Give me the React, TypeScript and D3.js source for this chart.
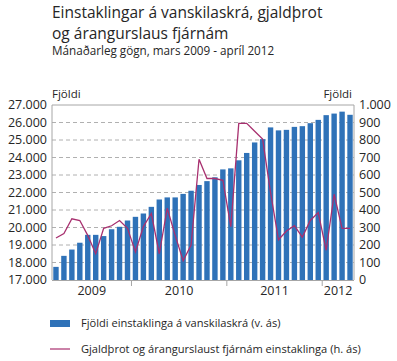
import React from "react";
import * as d3 from "d3";

const months: string[] = [
  "2009-03","2009-04","2009-05","2009-06","2009-07","2009-08","2009-09","2009-10","2009-11","2009-12",
  "2010-01","2010-02","2010-03","2010-04","2010-05","2010-06","2010-07","2010-08","2010-09","2010-10","2010-11","2010-12",
  "2011-01","2011-02","2011-03","2011-04","2011-05","2011-06","2011-07","2011-08","2011-09","2011-10","2011-11","2011-12",
  "2012-01","2012-02","2012-03","2012-04",
];

// Fjöldi einstaklinga á vanskilaskrá (left axis)
const registry: number[] = [
  17750, 18380, 18740, 19130, 19580, 19580, 19510, 19900, 20040, 20400,
  20610, 20800, 21180, 21600, 21720, 21720, 21920, 22100, 22430, 22650, 22870, 23320,
  23380, 23840, 24260, 24860, 25050, 25720, 25550, 25580, 25750, 25790, 25960, 26150,
  26420, 26510, 26620, 26440,
];

// Gjaldþrot og árangurslaust fjárnám einstaklinga (right axis)
const bankrupt: number[] = [
  240, 265, 350, 340, 255, 150, 295, 310, 340, 295,
  160, 305, 380, 150, 410, 255, 110, 200, 690, 580, 580, 570,
  305, 895, 895, 850, 805, 500, 230, 280, 310, 245, 340, 385,
  170, 490, 295, 295,
];

const years: string[] = ["2009", "2010", "2011", "2012"];
const leftTicks: number[] = [17000, 18000, 19000, 20000, 21000, 22000, 23000, 24000, 25000, 26000, 27000];
const rightTicks: number[] = [0, 100, 200, 300, 400, 500, 600, 700, 800, 900, 1000];

const FONT = "'Open Sans', sans-serif";
const BAR = "#2f72b8";
const LINE = "#a8306f";
const AXIS = "#a6a6a6";
const TXT = "#262626";

const W = 397;
const H = 361;
const L = 52;
const R = 354;
const T = 105;
const B = 280;

const fmt = (v: number) => d3.format(",")(v).replace(/,/g, ".");

export default function App() {
  const x = d3.scaleBand<string>().domain(months).range([L, R]).paddingInner(0.32).paddingOuter(0.16);
  const yL = d3.scaleLinear().domain([17000, 27000]).range([B, T]);
  const yR = d3.scaleLinear().domain([0, 1000]).range([B, T]);
  const step = x.step();
  const gapHalf = (step - x.bandwidth()) / 2;

  const line = d3
    .line<number>()
    .x((_, i) => (x(months[i]) as number) + x.bandwidth() / 2)
    .y((d) => yR(d));

  const yearStarts = years.map((y) => months.findIndex((m) => m.startsWith(y)));
  const boundary = (i: number) => (x(months[i]) as number) - gapHalf;

  return (
    <svg width={W} height={H} style={{ display: "block", position: "absolute", left: 0, top: 0 }} fontFamily={FONT}>
      <rect x={0} y={0} width={W} height={H} fill="#fff" />
      <text x={52} y={18} fontSize={15.5} fill={TXT}>Einstaklingar á vanskilaskrá, gjaldþrot</text>
      <text x={52} y={39} fontSize={15.5} fill={TXT}>og árangurslaus fjárnám</text>
      <text x={52} y={55} fontSize={11.7} fill={TXT}>Mánaðarleg gögn, mars 2009 - apríl 2012</text>

      <text x={L} y={98} fontSize={11.5} fill={TXT}>Fjöldi</text>
      <text x={R - 2} y={98} fontSize={11.5} fill={TXT} textAnchor="end">Fjöldi</text>

      {leftTicks.slice(1, -1).map((t) => (
        <line key={"g" + t} x1={L} x2={R} y1={yL(t)} y2={yL(t)} stroke="#b0b0b0" strokeWidth={1} strokeDasharray="4,3" />
      ))}

      {registry.map((v, i) => (
        <rect key={"b" + i} x={x(months[i])} y={yL(v)} width={x.bandwidth()} height={B - yL(v)} fill={BAR} />
      ))}

      <path d={line(bankrupt) || ""} fill="none" stroke={LINE} strokeWidth={1.3} strokeLinejoin="miter" />

      <line x1={L} x2={R} y1={T} y2={T} stroke={AXIS} strokeWidth={1} />
      <line x1={L} x2={L} y1={T} y2={B} stroke={AXIS} strokeWidth={1} />
      <line x1={R} x2={R} y1={T} y2={B} stroke={AXIS} strokeWidth={1} />
      <line x1={L} x2={R} y1={B + 0.5} y2={B + 0.5} stroke={AXIS} strokeWidth={1} />

      {yearStarts.slice(1).map((s) => (
        <line key={"t" + s} x1={boundary(s)} x2={boundary(s)} y1={B} y2={B + 6} stroke={AXIS} strokeWidth={1} />
      ))}

      {years.map((yr, k) => {
        const x0 = k === 0 ? L : boundary(yearStarts[k]);
        const x1 = k === years.length - 1 ? R : boundary(yearStarts[k + 1]);
        return (
          <text key={yr} x={(x0 + x1) / 2} y={295} fontSize={12.5} textAnchor="middle" fill={TXT}>
            {yr}
          </text>
        );
      })}

      {leftTicks.map((t) => (
        <text key={"l" + t} x={47} y={yL(t)} dy="0.35em" fontSize={12.5} textAnchor="end" fill={TXT}>
          {fmt(t)}
        </text>
      ))}
      {rightTicks.map((t) => (
        <text key={"r" + t} x={359} y={yR(t)} dy="0.35em" fontSize={12.5} textAnchor="start" fill={TXT}>
          {fmt(t)}
        </text>
      ))}

      <rect x={50} y={320} width={20} height={7} fill={BAR} />
      <text x={81} y={327} fontSize={11.1} fill={TXT}>Fjöldi einstaklinga á vanskilaskrá (v. ás)</text>
      <line x1={50} x2={70} y1={349} y2={349} stroke={LINE} strokeWidth={1.2} />
      <text x={81} y={353} fontSize={11.1} fill={TXT}>Gjaldþrot og árangurslaust fjárnám einstaklinga (h. ás)</text>
    </svg>
  );
}
